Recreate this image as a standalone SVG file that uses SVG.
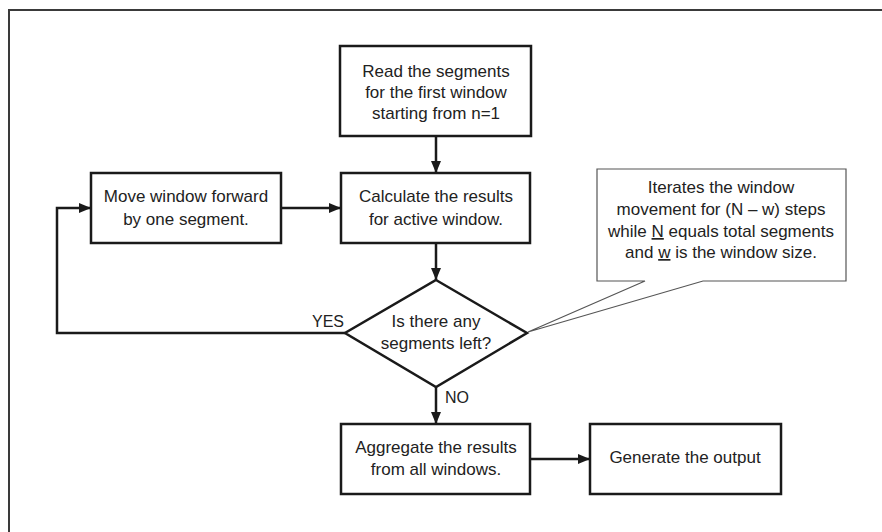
<svg xmlns="http://www.w3.org/2000/svg" width="882" height="532" viewBox="0 0 882 532">
<style>
.box{fill:#fff;stroke:#1a1a1a;stroke-width:2.5}
.t{font-family:"Liberation Sans",Arial,sans-serif;font-size:17px;fill:#222;text-anchor:middle}
.lbl{font-family:"Liberation Sans",Arial,sans-serif;font-size:16px;fill:#222}
.c{fill:none;stroke:#1a1a1a;stroke-width:2.5}
.callout{fill:#fff;stroke:#555;stroke-width:1.2}
</style>
<defs>
<marker id="ah" markerWidth="12" markerHeight="12" viewBox="0 0 12 12" refX="12" refY="6" orient="auto" markerUnits="userSpaceOnUse">
<path d="M0,1 L12,6 L0,11 Z" fill="#1a1a1a"/>
</marker>
</defs>
<rect width="882" height="532" fill="#fff"/>
<path d="M9,532 V10 H882" fill="none" stroke="#3a3a3a" stroke-width="2"/>
<g id="connectors">
<line class="c" x1="436" y1="136" x2="436" y2="173" marker-end="url(#ah)"/>
<line class="c" x1="281" y1="208" x2="341" y2="208" marker-end="url(#ah)"/>
<line class="c" x1="436" y1="243" x2="436" y2="280" marker-end="url(#ah)"/>
<polyline class="c" points="345,333 57,333 57,208 91,208" marker-end="url(#ah)"/>
<line class="c" x1="436" y1="387" x2="436" y2="424" marker-end="url(#ah)"/>
<line class="c" x1="530" y1="459" x2="590" y2="459" marker-end="url(#ah)"/>
<text class="lbl" x="312" y="327">YES</text>
<text class="lbl" x="445" y="403">NO</text>
</g>
<g id="read">
<rect class="box" x="340" y="46" width="191" height="90"/>
<text class="t" x="436" y="77">Read the segments</text>
<text class="t" x="436" y="98">for the first window</text>
<text class="t" x="436" y="119">starting from n=1</text>
</g>
<g id="calc">
<rect class="box" x="341" y="173" width="189" height="70"/>
<text class="t" x="436" y="202">Calculate the results</text>
<text class="t" x="436" y="225">for active window.</text>
</g>
<g id="move">
<rect class="box" x="91" y="173" width="190" height="70"/>
<text class="t" x="186" y="202">Move window forward</text>
<text class="t" x="186" y="225">by one segment.</text>
</g>
<g id="decision">
<polygon class="box" points="436,280 527,333 436,387 345,333"/>
<text class="t" x="436" y="327">Is there any</text>
<text class="t" x="436" y="349">segments left?</text>
</g>
<g id="aggregate">
<rect class="box" x="341" y="424" width="189" height="70"/>
<text class="t" x="436" y="453">Aggregate the results</text>
<text class="t" x="436" y="475">from all windows.</text>
</g>
<g id="generate">
<rect class="box" x="590" y="424" width="191" height="70"/>
<text class="t" x="685" y="463">Generate the output</text>
</g>
<g id="note">
<path class="callout" d="M597,169 H846 V281 H703 L528,332 L645,281 H597 Z"/>
<text class="t" x="721" y="193">Iterates the window</text>
<text class="t" x="721" y="215">movement for (N – w) steps</text>
<text class="t" x="721" y="237">while <tspan text-decoration="underline">N</tspan> equals total segments</text>
<text class="t" x="721" y="258">and <tspan text-decoration="underline">w</tspan> is the window size.</text>
</g>
</svg>
